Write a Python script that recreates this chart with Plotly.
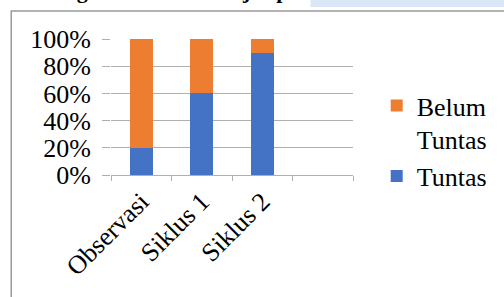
import plotly.graph_objects as go

categories = ["Observasi", "Siklus 1", "Siklus 2"]
tuntas = [0.20, 0.60, 0.90]
belum_tuntas = [0.80, 0.40, 0.10]
y_ticks = [0, 0.2, 0.4, 0.6, 0.8, 1.0]
y_tick_labels = ["0%", "20%", "40%", "60%", "80%", "100%"]

FONT = "Liberation Serif"
W, H = 504, 297
L, R, T, B = 111, 356, 39, 175

def px(x):
    return (x - L) / (R - L)

def py(y):
    return (B - y) / (B - T)

fig = go.Figure()
fig.add_trace(go.Bar(name="Tuntas", x=categories, y=tuntas,
                     marker=dict(color="#4472c4", line=dict(width=0))))
fig.add_trace(go.Bar(name="Belum<br>Tuntas", x=categories, y=belum_tuntas,
                     marker=dict(color="#ed7d31", line=dict(width=0))))

fig.update_layout(
    width=W, height=H,
    margin=dict(l=L, r=W - R, t=T, b=H - B, pad=0),
    barmode="stack", bargap=0.62,
    plot_bgcolor="white", paper_bgcolor="white",
    font=dict(family=FONT, size=26, color="black"),
    showlegend=True,
    legend=dict(x=px(380), y=py(82), xanchor="left", yanchor="top",
                traceorder="reversed", valign="top",
                font=dict(family=FONT, size=26, color="black"),
                bgcolor="rgba(0,0,0,0)", tracegroupgap=0),
    xaxis=dict(type="category", categoryorder="array",
               categoryarray=categories + [" "], range=[-0.5, 3.5],
               tickson="boundaries", ticks="outside", ticklen=5,
               tickcolor="#b0b0b0", showline=True, linecolor="#b0b0b0",
               linewidth=1, showgrid=False, tickangle=-45,
               tickfont=dict(family=FONT, size=26, color="black")),
    yaxis=dict(range=[0, 1], tickvals=y_ticks, ticktext=y_tick_labels,
               ticks="outside", ticklen=8, tickcolor="#b0b0b0",
               ticklabelstandoff=6,
               showgrid=True, gridcolor="#b0b0b0", gridwidth=1,
               showline=False, zeroline=False,
               tickfont=dict(family=FONT, size=26, color="black")),
    shapes=[
        dict(type="rect", xref="paper", yref="paper",
             x0=px(313), x1=px(510), y0=py(7), y1=py(-5),
             fillcolor="#dbe7f4", line=dict(width=0), layer="below"),
        dict(type="rect", xref="paper", yref="paper",
             x0=px(10), x1=px(520), y0=py(310), y1=py(11),
             line=dict(color="#999999", width=1.5), fillcolor="rgba(0,0,0,0)"),
    ],
    annotations=[
        dict(text="<b>Peningkatan Hasil Belajar pada Siswa Kelas V</b>",
             xref="paper", yref="paper", x=px(20), y=py(5),
             xanchor="left", yanchor="bottom", showarrow=False,
             font=dict(family=FONT, size=22, color="black")),
    ],
)

fig.write_html("out.html", config={"displayModeBar": False},
               post_script="document.body.style.margin='0px';document.body.style.padding='0px';")
